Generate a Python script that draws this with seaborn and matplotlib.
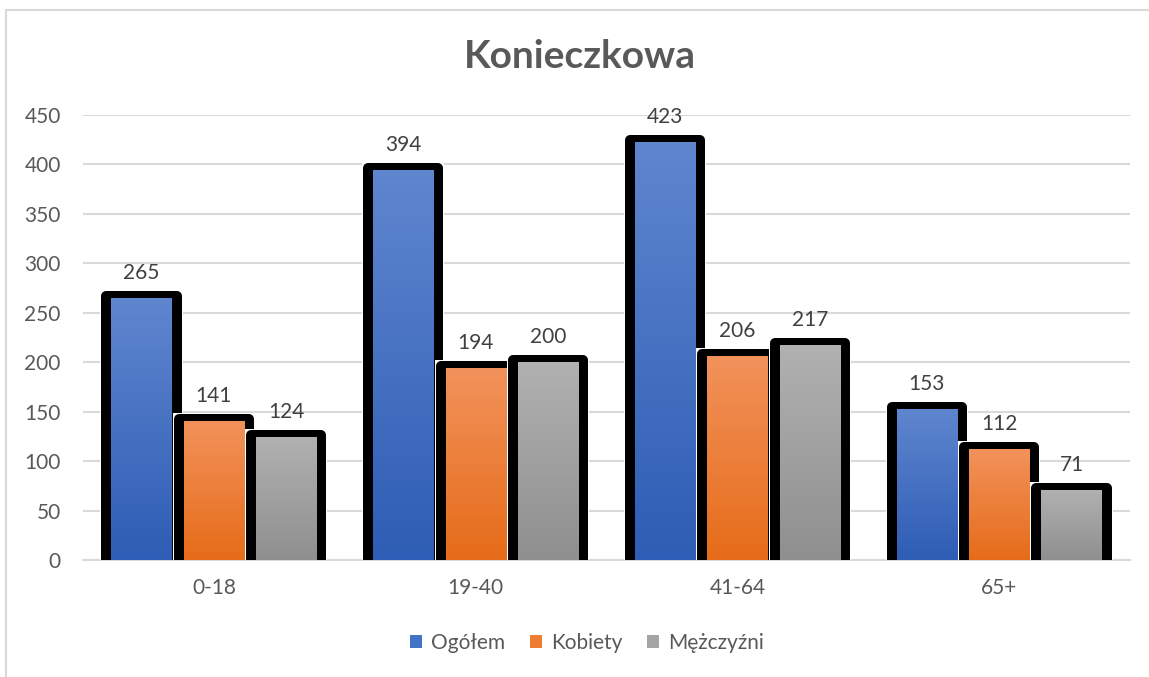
import numpy as np
import pandas as pd
import matplotlib
matplotlib.use("Agg")
import matplotlib.pyplot as plt
import seaborn as sns
from matplotlib.patches import Rectangle, Patch
from matplotlib.lines import Line2D
from matplotlib.colors import LinearSegmentedColormap

# ---- data ----
title = "Konieczkowa"
categories = ["0-18", "19-40", "41-64", "65+"]
series_names = ["Ogółem", "Kobiety", "Mężczyźni"]
ogolem = [265, 394, 423, 153]
kobiety = [141, 194, 206, 112]
mezczyzni = [124, 200, 217, 71]
yticks = [0, 50, 100, 150, 200, 250, 300, 350, 400, 450]

# ---- style ----
top_colors = ["#5F86CF", "#F2925B", "#B1B1B1"]
bottom_colors = ["#2E5DB5", "#E66C19", "#8F8F8F"]
legend_colors = ["#4472C4", "#ED7D31", "#A5A5A5"]
text_gray = "#595959"
label_gray = "#404040"
grid_gray = "#D9D9D9"

sns.set_theme(style="white")
plt.rcParams["font.family"] = ["Lato", "DejaVu Sans"]

df = pd.DataFrame({
    "cat": categories * 3,
    "series": [series_names[0]] * 4 + [series_names[1]] * 4 + [series_names[2]] * 4,
    "val": ogolem + kobiety + mezczyzni,
})

W, H, DPI = 1149, 677, 100
fig = plt.figure(figsize=(W / DPI, H / DPI), dpi=DPI)
ax_l, ax_r, ax_t, ax_b = 83, 1130, 115, 560
ax = fig.add_axes([ax_l / W, 1 - ax_b / H, (ax_r - ax_l) / W, (ax_b - ax_t) / H])

sns.barplot(data=df, x="cat", y="val", hue="series", order=categories,
            hue_order=series_names, palette=legend_colors, width=0.83, gap=0.17,
            legend=False, ax=ax, saturation=1)

ax.set_xlim(-0.5, 3.5)
ax.set_ylim(0, 450)
ax.set_yticks(yticks)
ax.set_xlabel("")
ax.set_ylabel("")
for s in ["left", "right", "top"]:
    ax.spines[s].set_visible(False)
ax.spines["bottom"].set_color(grid_gray)
ax.spines["bottom"].set_linewidth(1.5)
ax.spines["bottom"].set_zorder(0.5)
ax.yaxis.grid(True, color=grid_gray, linewidth=1.5, zorder=0)
ax.set_axisbelow(True)
ax.tick_params(axis="both", length=0, labelsize=15, colors=text_gray)
ax.tick_params(axis="y", pad=16)
ax.tick_params(axis="x", pad=13)

# px -> data conversions
px_x = 4.0 / (ax_r - ax_l)
px_y = 450.0 / (ax_b - ax_t)

grad = np.linspace(0, 1, 256).reshape(-1, 1)
for k, cont in enumerate(ax.containers):
    cmap = LinearSegmentedColormap.from_list(f"g{k}", [bottom_colors[k], top_colors[k]])
    base = 2 + 3 * k
    for bar in cont:
        x0 = bar.get_x()
        w = bar.get_width()
        h = bar.get_height()
        # white backing box
        ax.add_patch(Rectangle((x0 - 11 * px_x, 0), w + 22 * px_x, h + 8 * px_y,
                               facecolor="white", edgecolor="none", zorder=base))
        # black rounded frame
        r = 5
        ax.add_patch(Rectangle((x0 - (10 - r) * px_x, 0), w + 2 * (10 - r) * px_x,
                               h + (7 - r) * px_y, facecolor="black", edgecolor="black",
                               linewidth=2 * r * 72 / DPI, joinstyle="round",
                               zorder=base + 0.1))
        bar.set_facecolor(bottom_colors[k])
        bar.set_edgecolor("none")
        bar.set_zorder(base + 0.2)
        im = ax.imshow(grad, cmap=cmap, origin="lower", aspect="auto",
                       extent=[x0, x0 + w, 0, h], zorder=base + 0.3)
        im.set_clip_path(bar)
        ax.annotate(f"{int(round(h))}", (x0 + w / 2, h), xytext=(0, 25),
                    textcoords="offset pixels", ha="center", va="center",
                    fontsize=15, color=label_gray, zorder=20)

ax.set_xlim(-0.5, 3.5)
ax.set_ylim(0, 450)

fig.text(580 / W, 1 - 57 / H, title, ha="center", va="center", fontsize=28,
         fontweight="bold", color=text_gray)

handles = [Patch(facecolor=c, edgecolor="none") for c in legend_colors]
fig.legend(handles, series_names, loc="center", bbox_to_anchor=(587 / W, 1 - 643 / H),
           ncol=3, frameon=False, fontsize=15, labelcolor=text_gray,
           handlelength=0.55, handleheight=0.55, handletextpad=0.45, columnspacing=1.2)

# chart area border (left and top visible)
fig.add_artist(Line2D([6 / W, 6 / W], [0, 1 - 10 / H], color=grid_gray, linewidth=1.5,
                      transform=fig.transFigure))
fig.add_artist(Line2D([6 / W, 1], [1 - 10 / H, 1 - 10 / H], color=grid_gray, linewidth=1.5,
                      transform=fig.transFigure))

fig.savefig("out.png", dpi=DPI, facecolor="white")
